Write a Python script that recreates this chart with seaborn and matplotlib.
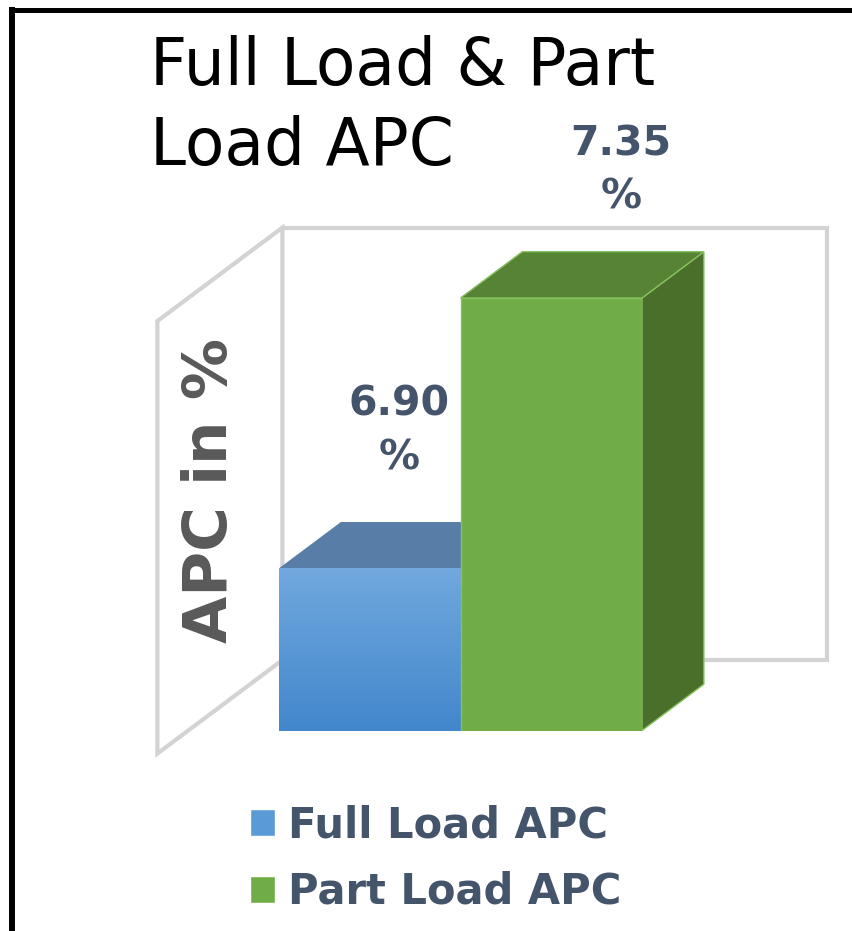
import numpy as np
import pandas as pd
import matplotlib
matplotlib.use("Agg")
import matplotlib.pyplot as plt
from matplotlib.patches import Polygon, Patch, Rectangle
from matplotlib.lines import Line2D
import seaborn as sns

# ---- data ----------------------------------------------------------------
categories = ["Full Load APC", "Part Load APC"]
apc_values = [6.90, 7.35]
value_labels = ["6.90\n%", "7.35\n%"]
axis_limits = [6.63, 7.35]
title_text = "Full Load & Part\nLoad APC"
ylabel_text = "APC in %"

# ---- styling -------------------------------------------------------------
front_colors = ["#5b9bd5", "#70ad47"]
top_colors = ["#587da6", "#578335"]
side_colors = ["#3f6d9c", "#4a6f2b"]
edge_colors = ["none", "#86c05e"]
blue_grad = ("#71a8de", "#4287cc")
label_color = "#44546a"
wall_color = "#d3d3d3"

W, H, DPI = 852, 931, 100
sns.set_theme(style="white")
plt.rcParams["font.family"] = ["DejaVu Sans"]

fig = plt.figure(figsize=(W / DPI, H / DPI), dpi=DPI)
fig.patch.set_facecolor("white")


def fx(px):
    return px / W


def fy(py):
    return 1 - py / H


# axes = front plane of the bars
ax = fig.add_axes([fx(279), fy(730.5), (642 - 279) / W, (730.5 - 298) / H])
df = pd.DataFrame({"series": categories, "apc": apc_values})
sns.barplot(data=df, x="series", y="apc", hue="series", palette=front_colors,
            width=1.0, saturation=1, legend=False, ax=ax, linewidth=0)
bars = sorted([p for p in ax.patches if isinstance(p, Rectangle)], key=lambda b: b.get_x())
ax.set_xlim(-0.5, 1.5)
ax.set_ylim(*axis_limits)
ax.axis("off")

# pixel -> data scale on the front plane
p0 = ax.transData.transform((0, axis_limits[0]))
p1 = ax.transData.transform((1, axis_limits[0] + 1))
sx, sy = p1[0] - p0[0], p1[1] - p0[1]

# oblique projection of depth (pixels for the full box depth)
BOX_DX, BOX_DY = 125.0, 93.5
BAR_FRONT = 0.247      # depth of bar front plane inside the box
BAR_DEPTH = 0.495      # bar depth as fraction of the box depth


def proj(x, y, t):
    """Data point on the bar front plane pushed back by depth t."""
    return (x + t * BOX_DX / sx, y + t * BOX_DY / sy)


lo, hi = axis_limits
t_front, t_back = -BAR_FRONT, 1 - BAR_FRONT
xb0, xb1 = -1.0, 2.0

# back wall
back = [proj(xb0, lo, t_back), proj(xb1, lo, t_back),
        proj(xb1, hi, t_back), proj(xb0, hi, t_back)]
ax.add_patch(Polygon(back, closed=True, facecolor="white", edgecolor=wall_color,
                     lw=3, clip_on=False, zorder=0.5, joinstyle="miter"))
# side wall
side = [proj(xb0, hi, t_front), proj(xb0, hi, t_back),
        proj(xb0, lo, t_back), proj(xb0, lo, t_front)]
ax.add_patch(Polygon(side, closed=True, facecolor="white", edgecolor=wall_color,
                     lw=3, clip_on=False, zorder=0.6, joinstyle="miter"))

# bar depth faces
for i, (bar, v) in enumerate(zip(bars, apc_values)):
    x0 = bar.get_x()
    x1 = x0 + bar.get_width()
    z = 2 + i
    top = [proj(x0, v, 0), proj(x1, v, 0), proj(x1, v, BAR_DEPTH), proj(x0, v, BAR_DEPTH)]
    rside = [proj(x1, lo, 0), proj(x1, v, 0), proj(x1, v, BAR_DEPTH), proj(x1, lo, BAR_DEPTH)]
    ec = edge_colors[i]
    ax.add_patch(Polygon(rside, closed=True, facecolor=side_colors[i], edgecolor=ec,
                         lw=1, clip_on=False, zorder=z))
    ax.add_patch(Polygon(top, closed=True, facecolor=top_colors[i], edgecolor=ec,
                         lw=1, clip_on=False, zorder=z))
    bar.set_zorder(z + 0.5)
    if ec != "none":
        bar.set_edgecolor(ec)
        bar.set_linewidth(1)

# vertical gradient on the blue front face
grad = np.linspace(0, 1, 256).reshape(-1, 1)
cmap = matplotlib.colors.LinearSegmentedColormap.from_list("bluegrad", [blue_grad[1], blue_grad[0]])
b0 = bars[0]
im = ax.imshow(grad, cmap=cmap, origin="lower", aspect="auto",
               extent=(b0.get_x(), b0.get_x() + b0.get_width(), lo, apc_values[0]),
               zorder=b0.get_zorder() + 0.1)
im.set_clip_path(b0)
ax.set_xlim(-0.5, 1.5)
ax.set_ylim(*axis_limits)

# value labels above the top faces (anchored on the back edge of each top face)
label_offsets = [(-2, 53), (39, 43)]
for i, (bar, v, txt) in enumerate(zip(bars, apc_values, value_labels)):
    cx = bar.get_x() + bar.get_width() / 2
    anchor = proj(cx + 0.5 * BAR_DEPTH * BOX_DX / sx, v, 0)
    anchor = (anchor[0], v + BAR_DEPTH * BOX_DY / sy)
    ax.annotate(txt, xy=anchor, xytext=label_offsets[i], textcoords="offset pixels",
                ha="center", va="baseline", fontsize=29.5, fontweight="bold",
                color=label_color, linespacing=1.43, annotation_clip=False, zorder=10)

# title and axis title
fig.text(fx(150), fy(165), title_text, ha="left", va="baseline", fontsize=46.5,
         color="black", linespacing=1.32)
fig.text(fx(210), fy(490), ylabel_text, rotation=90, ha="center", va="center",
         fontsize=44, fontweight="bold", color="#595959")

# legend
handles = [Patch(facecolor=front_colors[0]), Patch(facecolor=front_colors[1])]
fig.legend(handles, categories, loc="upper left", bbox_to_anchor=(fx(250), fy(804)),
           frameon=False, prop={"weight": "bold", "size": 30}, labelcolor=label_color,
           handlelength=0.6, handleheight=0.6, handletextpad=0.3, labelspacing=0.6,
           borderpad=0, borderaxespad=0)

# outer frame (left and top edges)
fig.add_artist(Line2D([fx(12), fx(12)], [fy(931), fy(7)], color="black", lw=4.3,
                      solid_capstyle="butt"))
fig.add_artist(Line2D([fx(9), fx(852)], [fy(9.5), fy(9.5)], color="black", lw=3.6,
                      solid_capstyle="butt"))

fig.savefig("out.png", dpi=DPI, facecolor="white")
